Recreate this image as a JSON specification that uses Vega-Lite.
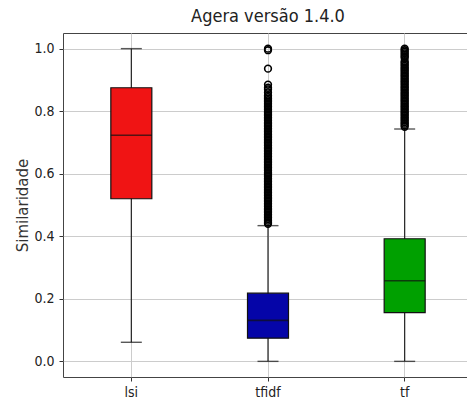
{
 "$schema": "https://vega.github.io/schema/vega-lite/v6.json",
 "width": 410,
 "height": 344,
 "autosize": "none",
 "padding": {"left": 63, "top": 33, "right": 0, "bottom": 31},
 "background": "white",
 "config": {
  "view": {"stroke": "#444", "strokeWidth": 1},
  "axis": {"labelFont": "DejaVu Sans Condensed", "labelFontSize": 14, "labelColor": "#222", "tickColor": "#333", "tickSize": 4, "domain": false, "gridColor": "#cccccc", "gridWidth": 1}
 },
 "title": {"text": "Agera versão 1.4.0", "font": "DejaVu Sans Condensed", "fontSize": 18, "fontWeight": "normal", "color": "#222", "anchor": "middle", "frame": "group", "baseline": "bottom", "offset": 6, "dy": 17},
 "datasets": {
  "stats": [
   {"method": "lsi", "lower": 0.061, "q1": 0.52, "median": 0.723, "q3": 0.875, "upper": 1.0},
   {"method": "tfidf", "lower": 0.0, "q1": 0.074, "median": 0.131, "q3": 0.218, "upper": 0.434},
   {"method": "tf", "lower": 0.0, "q1": 0.156, "median": 0.258, "q3": 0.392, "upper": 0.743}
  ],
  "outliers": [
   {"method": "tfidf", "value": 0.44}, {"method": "tfidf", "value": 0.445}, {"method": "tfidf", "value": 0.45}, {"method": "tfidf", "value": 0.455},
   {"method": "tfidf", "value": 0.46}, {"method": "tfidf", "value": 0.465}, {"method": "tfidf", "value": 0.47}, {"method": "tfidf", "value": 0.475},
   {"method": "tfidf", "value": 0.48}, {"method": "tfidf", "value": 0.485}, {"method": "tfidf", "value": 0.49}, {"method": "tfidf", "value": 0.495},
   {"method": "tfidf", "value": 0.5}, {"method": "tfidf", "value": 0.505}, {"method": "tfidf", "value": 0.51}, {"method": "tfidf", "value": 0.515},
   {"method": "tfidf", "value": 0.52}, {"method": "tfidf", "value": 0.525}, {"method": "tfidf", "value": 0.53}, {"method": "tfidf", "value": 0.535},
   {"method": "tfidf", "value": 0.54}, {"method": "tfidf", "value": 0.545}, {"method": "tfidf", "value": 0.55}, {"method": "tfidf", "value": 0.555},
   {"method": "tfidf", "value": 0.56}, {"method": "tfidf", "value": 0.565}, {"method": "tfidf", "value": 0.57}, {"method": "tfidf", "value": 0.575},
   {"method": "tfidf", "value": 0.58}, {"method": "tfidf", "value": 0.585}, {"method": "tfidf", "value": 0.59}, {"method": "tfidf", "value": 0.595},
   {"method": "tfidf", "value": 0.6}, {"method": "tfidf", "value": 0.605}, {"method": "tfidf", "value": 0.61}, {"method": "tfidf", "value": 0.615},
   {"method": "tfidf", "value": 0.62}, {"method": "tfidf", "value": 0.625}, {"method": "tfidf", "value": 0.63}, {"method": "tfidf", "value": 0.635},
   {"method": "tfidf", "value": 0.64}, {"method": "tfidf", "value": 0.645}, {"method": "tfidf", "value": 0.65}, {"method": "tfidf", "value": 0.655},
   {"method": "tfidf", "value": 0.66}, {"method": "tfidf", "value": 0.665}, {"method": "tfidf", "value": 0.67}, {"method": "tfidf", "value": 0.675},
   {"method": "tfidf", "value": 0.68}, {"method": "tfidf", "value": 0.685}, {"method": "tfidf", "value": 0.69}, {"method": "tfidf", "value": 0.695},
   {"method": "tfidf", "value": 0.7}, {"method": "tfidf", "value": 0.705}, {"method": "tfidf", "value": 0.71}, {"method": "tfidf", "value": 0.715},
   {"method": "tfidf", "value": 0.72}, {"method": "tfidf", "value": 0.725}, {"method": "tfidf", "value": 0.73}, {"method": "tfidf", "value": 0.735},
   {"method": "tfidf", "value": 0.74}, {"method": "tfidf", "value": 0.745}, {"method": "tfidf", "value": 0.75}, {"method": "tfidf", "value": 0.755},
   {"method": "tfidf", "value": 0.76}, {"method": "tfidf", "value": 0.765}, {"method": "tfidf", "value": 0.77}, {"method": "tfidf", "value": 0.775},
   {"method": "tfidf", "value": 0.78}, {"method": "tfidf", "value": 0.785}, {"method": "tfidf", "value": 0.79}, {"method": "tfidf", "value": 0.795},
   {"method": "tfidf", "value": 0.8}, {"method": "tfidf", "value": 0.805}, {"method": "tfidf", "value": 0.81}, {"method": "tfidf", "value": 0.815},
   {"method": "tfidf", "value": 0.82}, {"method": "tfidf", "value": 0.825}, {"method": "tfidf", "value": 0.83}, {"method": "tfidf", "value": 0.835},
   {"method": "tfidf", "value": 0.84}, {"method": "tfidf", "value": 0.845}, {"method": "tfidf", "value": 0.85}, {"method": "tfidf", "value": 0.86},
   {"method": "tfidf", "value": 0.87}, {"method": "tfidf", "value": 0.875}, {"method": "tfidf", "value": 0.885}, {"method": "tfidf", "value": 0.936},
   {"method": "tfidf", "value": 0.995}, {"method": "tfidf", "value": 1.0},
   {"method": "tf", "value": 0.75}, {"method": "tf", "value": 0.755}, {"method": "tf", "value": 0.76}, {"method": "tf", "value": 0.765},
   {"method": "tf", "value": 0.77}, {"method": "tf", "value": 0.775}, {"method": "tf", "value": 0.78}, {"method": "tf", "value": 0.785},
   {"method": "tf", "value": 0.79}, {"method": "tf", "value": 0.795}, {"method": "tf", "value": 0.8}, {"method": "tf", "value": 0.805},
   {"method": "tf", "value": 0.81}, {"method": "tf", "value": 0.815}, {"method": "tf", "value": 0.82}, {"method": "tf", "value": 0.825},
   {"method": "tf", "value": 0.83}, {"method": "tf", "value": 0.835}, {"method": "tf", "value": 0.84}, {"method": "tf", "value": 0.845},
   {"method": "tf", "value": 0.85}, {"method": "tf", "value": 0.855}, {"method": "tf", "value": 0.86}, {"method": "tf", "value": 0.865},
   {"method": "tf", "value": 0.87}, {"method": "tf", "value": 0.875}, {"method": "tf", "value": 0.88}, {"method": "tf", "value": 0.885},
   {"method": "tf", "value": 0.89}, {"method": "tf", "value": 0.895}, {"method": "tf", "value": 0.9}, {"method": "tf", "value": 0.905},
   {"method": "tf", "value": 0.91}, {"method": "tf", "value": 0.915}, {"method": "tf", "value": 0.92}, {"method": "tf", "value": 0.925},
   {"method": "tf", "value": 0.93}, {"method": "tf", "value": 0.935}, {"method": "tf", "value": 0.94}, {"method": "tf", "value": 0.945},
   {"method": "tf", "value": 0.95}, {"method": "tf", "value": 0.955}, {"method": "tf", "value": 0.96}, {"method": "tf", "value": 0.97},
   {"method": "tf", "value": 0.975}, {"method": "tf", "value": 0.98}, {"method": "tf", "value": 0.985}, {"method": "tf", "value": 0.99},
   {"method": "tf", "value": 0.995}, {"method": "tf", "value": 1.0}
  ]
 },
 "encoding": {
  "x": {"field": "method", "type": "nominal", "sort": ["lsi", "tfidf", "tf"],
        "scale": {"paddingInner": 0, "paddingOuter": 0},
        "axis": {"title": null, "labelAngle": 0, "grid": true, "labelPadding": 4}}
 },
 "layer": [
  {
   "data": {"name": "stats"},
   "mark": {"type": "rule", "color": "#222", "strokeWidth": 1.2},
   "encoding": {
    "y": {"field": "lower", "type": "quantitative",
          "scale": {"domain": [-0.05, 1.05], "nice": false, "zero": false},
          "axis": {"title": "Similaridade", "values": [0, 0.2, 0.4, 0.6, 0.8, 1.0], "format": ".1f", "grid": true,
                   "labelPadding": 5, "titleFont": "DejaVu Sans", "titleFontSize": 15, "titleFontWeight": "normal", "titleColor": "#333", "titlePadding": 3}},
    "y2": {"field": "upper"}
   }
  },
  {
   "data": {"name": "stats"},
   "mark": {"type": "bar", "width": {"band": 0.3}, "stroke": "#111", "strokeWidth": 1.2},
   "encoding": {
    "y": {"field": "q1", "type": "quantitative"},
    "y2": {"field": "q3"},
    "color": {"field": "method", "type": "nominal", "legend": null,
              "scale": {"domain": ["lsi", "tfidf", "tf"], "range": ["#f01414", "#0505a8", "#00a000"]}}
   }
  },
  {
   "data": {"name": "stats"},
   "mark": {"type": "tick", "color": "#111", "size": 41, "thickness": 1.6},
   "encoding": {"y": {"field": "median", "type": "quantitative"}}
  },
  {
   "data": {"name": "stats"},
   "mark": {"type": "tick", "color": "#111", "size": 21, "thickness": 1.4},
   "encoding": {"y": {"field": "lower", "type": "quantitative"}}
  },
  {
   "data": {"name": "stats"},
   "mark": {"type": "tick", "color": "#111", "size": 21, "thickness": 1.4},
   "encoding": {"y": {"field": "upper", "type": "quantitative"}}
  },
  {
   "data": {"name": "outliers"},
   "mark": {"type": "point", "shape": "circle", "filled": false, "stroke": "#000", "strokeWidth": 1.6, "size": 45, "opacity": 1},
   "encoding": {"y": {"field": "value", "type": "quantitative"}}
  }
 ]
}
